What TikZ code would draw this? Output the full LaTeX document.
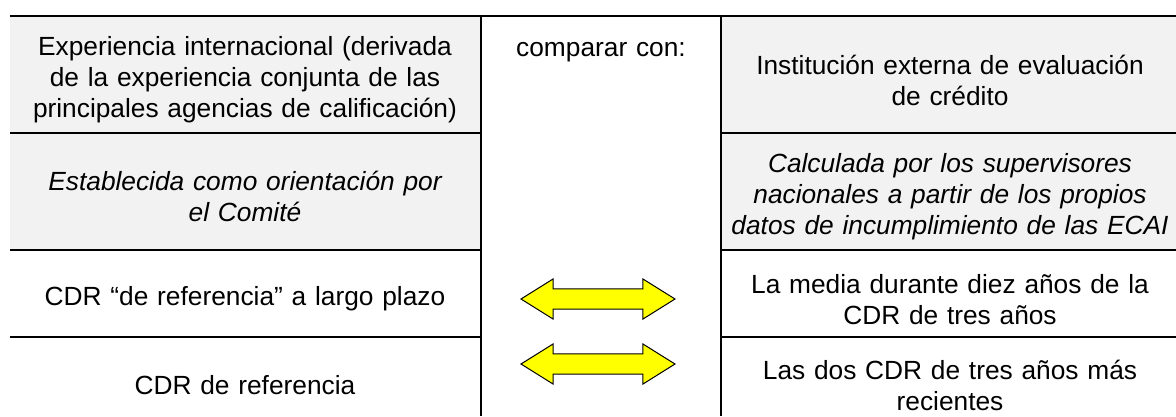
\documentclass[tikz,border=0pt]{standalone}
\usepackage{fontspec}
\setmainfont{Liberation Sans}
\usepackage{tikz}
\usetikzlibrary{shapes.arrows}
\definecolor{cellgray}{RGB}{242,242,242}
\definecolor{arrowyellow}{RGB}{255,255,0}

\begin{document}
\begin{tikzpicture}[
  x=1pt, y=-1pt,
  cell/.style={text width=460pt, align=center, inner sep=0pt, font=\fontsize{26.3}{31}\selectfont},
  slanted/.style={cell, font=\fontsize{26.3}{31}\selectfont\itshape},
  rule/.style={line width=2.5pt},
  dblarr/.style={double arrow, draw=black, fill=arrowyellow, line width=1pt, inner xsep=0pt, inner ysep=9.7pt, minimum height=154pt, double arrow head extend=9.8pt, double arrow tip angle=64},
]
\useasboundingbox (0,0) rectangle (1176,416);
\clip (0,0) rectangle (1176,416);

% Shaded cells
\fill[cellgray] (10,16) rectangle (481,250);
\fill[cellgray] (721,16) rectangle (1176,250);

% Rules
\draw[rule] (10,16) -- (1176,16);
\draw[rule] (481,16) -- (481,416);
\draw[rule] (721,16) -- (721,416);
\foreach \y in {133,250,337} {
  \draw[rule] (10,\y) -- (481,\y);
  \draw[rule] (721,\y) -- (1176,\y);
}

% Left column
\node[cell] (intl) at (245,80) {Experiencia internacional (derivada\\de la experiencia conjunta de las\\principales agencias de calificación)};
\node[slanted] (comite) at (245,196) {Establecida como orientación por\\el Comité};
\node[cell] (largo) at (245,299) {CDR “de referencia” a largo plazo};
\node[cell] (refer) at (245,385) {CDR de referencia};

% Middle column
\node[cell, text width=220pt] (comp) at (601,52) {comparar con:};
\node[dblarr] (arrA) at (598,299) {};
\node[dblarr] (arrB) at (598,364) {};

% Right column
\node[cell] (ecai) at (950,80) {Institución externa de evaluación\\de crédito};
\node[slanted] (super) at (950,197) {Calculada por los supervisores\\nacionales a partir de los propios\\datos de incumplimiento de las ECAI};
\node[cell] (media) at (950,300) {La media durante diez años de la\\CDR de tres años};
\node[cell] (dos) at (950,385) {Las dos CDR de tres años más\\recientes};

\end{tikzpicture}
\end{document}
